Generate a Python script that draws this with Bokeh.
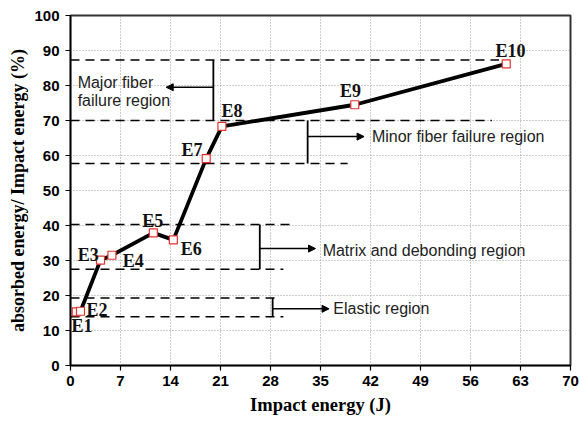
from bokeh.plotting import figure
from bokeh.models import Arrow, NormalHead, FixedTicker, Range1d, ColumnDataSource
from bokeh.core.properties import value
from bokeh.embed import file_html
from bokeh.resources import INLINE

# data
energy = [0.8, 1.4, 4.2, 5.8, 11.6, 14.4, 19.0, 21.2, 39.8, 61.0]
ratio = [15.3, 15.5, 30.1, 31.5, 37.9, 35.9, 59.1, 68.3, 74.5, 86.2]
point_names = ["E1", "E2", "E3", "E4", "E5", "E6", "E7", "E8", "E9", "E10"]
label_x = [1.6, 3.7, 2.5, 8.8, 11.5, 16.9, 17.0, 22.6, 39.2, 61.6]
label_y = [11.2, 15.8, 31.5, 29.8, 41.3, 33.2, 61.6, 72.8, 78.4, 89.8]

x_ticks = [0, 7, 14, 21, 28, 35, 42, 49, 56, 63, 70]
y_ticks = [0, 10, 20, 30, 40, 50, 60, 70, 80, 90, 100]

# dashed region boundary lines
dash_y = [87.3, 70.0, 57.7, 40.3, 27.5, 19.3, 13.9]
dash_x_end = [60.0, 59.0, 38.8, 31.5, 29.8, 29.4, 29.8]

# region brackets
bracket_x = [20.0, 33.2, 26.5, 28.3]
bracket_y0 = [70.0, 57.7, 27.5, 13.9]
bracket_y1 = [87.3, 70.0, 40.3, 19.3]
arrow_y = [79.5, 65.4, 33.4, 16.2]
arrow_x_end = [13.4, 41.1, 34.3, 36.2]

# region texts
region_text = ["Major fiber", "failure region", "Minor fiber failure region",
               "Matrix and debonding region", "Elastic region"]
text_x = [1.0, 1.0, 42.2, 35.3, 36.8]
text_y = [80.9, 75.7, 65.4, 32.9, 16.2]

p = figure(width=579, height=423, output_backend="svg", toolbar_location=None,
           x_range=Range1d(0, 70), y_range=Range1d(0, 100),
           min_border_left=70, min_border_right=9, min_border_top=15, min_border_bottom=58)
p.background_fill_color = "white"
p.border_fill_color = "white"
p.outline_line_color = "#333333"
p.outline_line_width = 2

p.xaxis.ticker = FixedTicker(ticks=x_ticks)
p.yaxis.ticker = FixedTicker(ticks=y_ticks)
for ax in (p.xaxis, p.yaxis):
    ax.axis_line_color = "black"
    ax.axis_line_width = 1.5
    ax.major_tick_line_color = "black"
    ax.major_tick_line_width = 1.2
    ax.major_tick_out = 5
    ax.major_tick_in = 0
    ax.minor_tick_line_color = None
    ax.major_label_text_font = "Liberation Sans"
    ax.major_label_text_font_style = "bold"
    ax.major_label_text_font_size = "15px"
    ax.major_label_text_color = "black"
    ax.axis_label_text_font = "Liberation Serif"
    ax.axis_label_text_font_style = "bold"
    ax.axis_label_text_font_size = "18.5px"
    ax.axis_label_text_color = "black"
p.xaxis.axis_label = "Impact energy (J)"
p.yaxis.axis_label = "absorbed energy/ Impact energy (%)"
p.yaxis.axis_label_text_font_size = "18px"
p.xaxis.major_label_standoff = 5
p.xaxis.axis_label_standoff = 6
p.yaxis.major_label_standoff = 6
p.yaxis.axis_label_standoff = 3

p.grid.grid_line_color = "#9a9a9a"
p.grid.grid_line_dash = "1 2"
p.grid.grid_line_width = 1

# dashed boundary lines
p.segment(x0=[0] * len(dash_y), y0=dash_y, x1=dash_x_end, y1=dash_y,
          line_color="black", line_width=1.5, line_dash="9 6")

# brackets
p.segment(x0=bracket_x, y0=bracket_y0, x1=bracket_x, y1=bracket_y1,
          line_color="black", line_width=1.8)
for i in range(len(bracket_x)):
    p.add_layout(Arrow(end=NormalHead(size=7, fill_color="black", line_color="black"),
                       x_start=bracket_x[i], y_start=arrow_y[i],
                       x_end=arrow_x_end[i], y_end=arrow_y[i],
                       line_color="black", line_width=1.5))

p.text(x=text_x, y=text_y, text=region_text, text_font=value("Liberation Sans"),
       text_font_size="16px", text_color="#222222", text_align="left",
       text_baseline="middle")

# data line and markers
src = ColumnDataSource(dict(x=energy, y=ratio))
p.line("x", "y", source=src, line_color="black", line_width=3.8)
p.scatter("x", "y", source=src, marker="square", size=8, fill_color="white",
          line_color="#e8302e", line_width=1.2)

p.text(x=label_x, y=label_y, text=point_names, text_font=value("Liberation Serif"),
       text_font_style="bold", text_font_size="18px", text_color="#111111",
       text_align="center", text_baseline="middle")

open("out.html", "w").write(file_html(p, INLINE))
